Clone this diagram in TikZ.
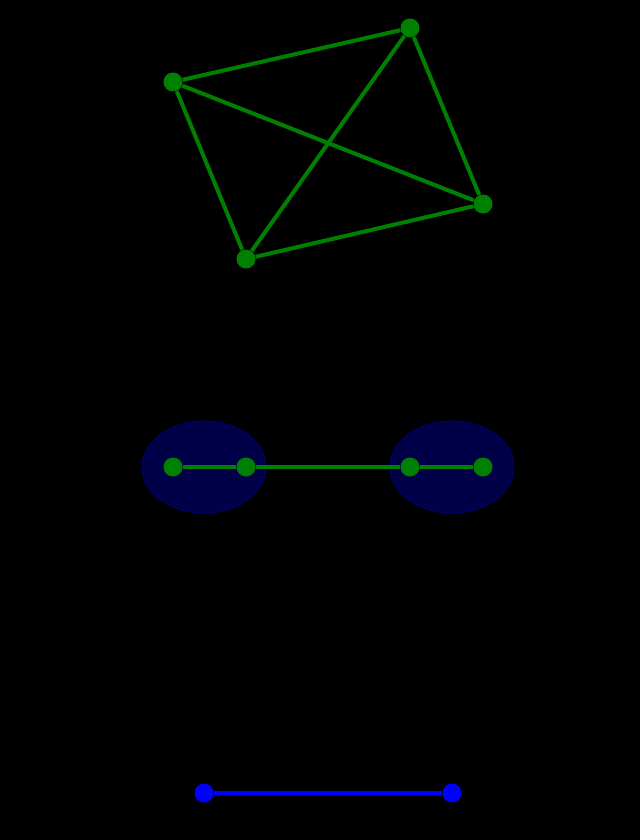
\documentclass[tikz,border=0pt]{standalone}
\usepackage{tikz}

\definecolor{darkgreen}{RGB}{0,128,0}
\definecolor{navy}{RGB}{0,0,72}
\definecolor{navyrim}{RGB}{0,0,110}

\tikzset{
  vertex/.style={circle,fill=darkgreen,inner sep=0pt,minimum size=9.5pt},
  bvertex/.style={circle,fill=blue,inner sep=0pt,minimum size=9.5pt},
  edge/.style={draw=darkgreen,line width=2pt},
  bedge/.style={draw=blue,line width=2pt},
  blob/.style={fill=navy,draw=navyrim,line width=0.5pt}
}

\begin{document}
\begin{tikzpicture}[x=0.5pt,y=-0.5pt]
  \fill[black] (0,0) rectangle (640,840);
  \useasboundingbox (0,0) rectangle (640,840);
  % top: complete graph on four vertices
  \node[vertex] (a) at (173,82) {};
  \node[vertex] (b) at (410,28) {};
  \node[vertex] (c) at (483,204) {};
  \node[vertex] (d) at (246,259) {};
  \draw[edge] (a) -- (b);
  \draw[edge] (b) -- (c);
  \draw[edge] (c) -- (d);
  \draw[edge] (d) -- (a);
  \draw[edge] (a) -- (c);
  \draw[edge] (b) -- (d);
  % middle: two contracted pairs
  \draw[blob] (204,467) ellipse [x radius=62,y radius=46];
  \draw[blob] (452,467) ellipse [x radius=62,y radius=46];
  \node[vertex] (m1) at (173,467) {};
  \node[vertex] (m2) at (246,467) {};
  \node[vertex] (m3) at (410,467) {};
  \node[vertex] (m4) at (483,467) {};
  \draw[edge] (m1) -- (m2);
  \draw[edge] (m2) -- (m3);
  \draw[edge] (m3) -- (m4);
  % bottom: quotient
  \node[bvertex] (q1) at (204,793) {};
  \node[bvertex] (q2) at (452,793) {};
  \draw[bedge] (q1) -- (q2);
\end{tikzpicture}
\end{document}
